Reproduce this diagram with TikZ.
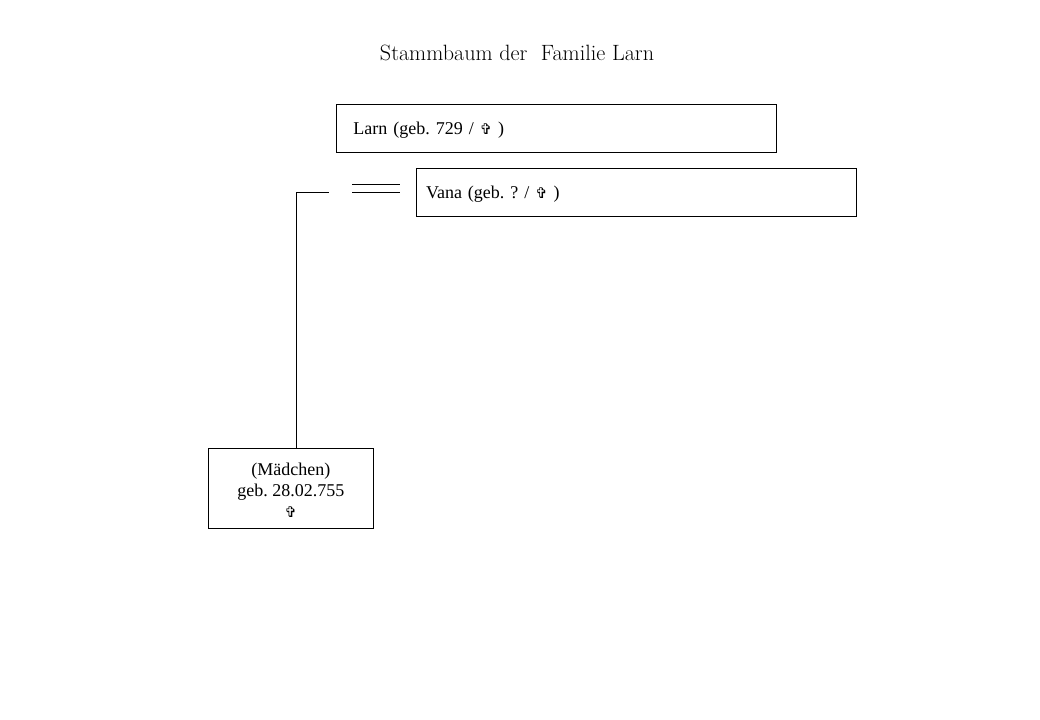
\documentclass[tikz,border=0pt]{standalone}
\usepackage{fontspec}
\newfontfamily\tnr{Liberation Serif}
\newfontfamily\sym{DejaVu Sans}
\newcommand{\crossmark}{{\sym\fontsize{11pt}{11pt}\selectfont ✞}}
\frenchspacing
\begin{document}
\begin{tikzpicture}[x=0.75pt,y=-0.75pt,
  person/.style={draw,line width=0.75pt,font=\tnr\fontsize{13.5pt}{15.5pt}\selectfont,inner ysep=0pt,minimum height=36pt},
  wide/.style={person,text width=330pt-2*#1,inner xsep=#1,align=left,text depth=0pt},
  conn/.style={line width=0.75pt}]
\useasboundingbox (0,0) rectangle (1040,720);
\node (title) at (517,53) {\fontsize{16.6pt}{20pt}\selectfont Stammbaum der\ \ Familie Larn};
\node[wide=13pt] (larn) at (556,128.5) {Larn (geb. 729 / \crossmark\ )};
\node[wide=7.5pt] (vana) at (636,192.5) {Vana (geb. ? / \crossmark\ )};
\node[person,minimum width=124pt,minimum height=60pt,align=center,inner xsep=0pt,text height=43pt,text depth=0pt] (kid) at (290.8,488.5)
  {(Mädchen)\\geb. 28.02.755\\\crossmark};
\coordinate (d1a) at (352,184.3);
\coordinate (d1b) at (400,184.3);
\coordinate (d2a) at (352,192.7);
\coordinate (d2b) at (400,192.7);
\draw[conn] (d1a) -- (d1b);
\draw[conn] (d2a) -- (d2b);
\coordinate (m) at (328.5,192.7);
\coordinate (j) at (296.5,192.7);
\draw[conn] (m) -- (j) -- (j |- kid.north);
\end{tikzpicture}
\end{document}
